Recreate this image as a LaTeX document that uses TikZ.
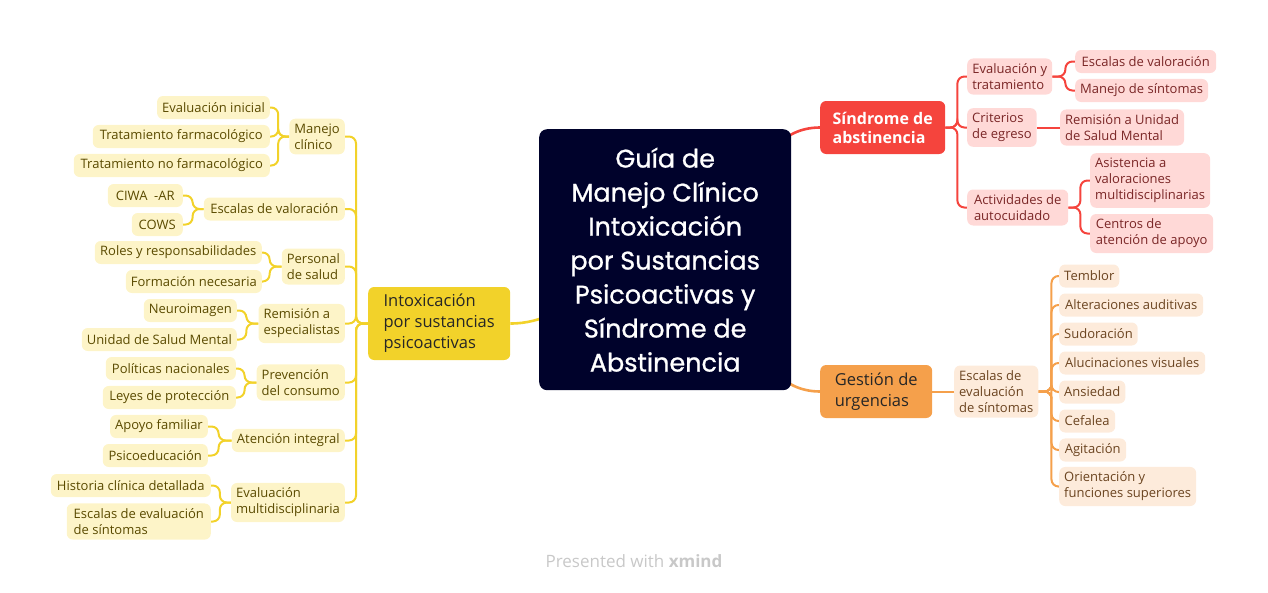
\documentclass[tikz,border=0pt]{standalone}
\usepackage{fontspec}
\setmainfont{Open Sans}
\newfontfamily\titlefont[FakeBold=0.9]{Poppins}
\usetikzlibrary{backgrounds}

\definecolor{navy}{HTML}{00022B}
\definecolor{redmain}{HTML}{F5443D}
\definecolor{redfill}{HTML}{FFD9D7}
\definecolor{redtext}{HTML}{7A2626}
\definecolor{orgmain}{HTML}{F5A04B}
\definecolor{orgfill}{HTML}{FDEBDB}
\definecolor{orgtext}{HTML}{6B4420}
\definecolor{ylwmain}{HTML}{F2D22A}
\definecolor{ylwfill}{HTML}{FDF4C8}
\definecolor{ylwtext}{HTML}{5A4A00}
\definecolor{footgray}{HTML}{C8C8C8}

\tikzset{
  topic/.style={rounded corners=6, inner xsep=5, inner ysep=5, align=left,
    minimum height=23, font=\fontsize{13}{16}\selectfont},
  bw/.style={minimum width=#1},
  redsub/.style={topic, fill=redfill, text=redtext},
  orgsub/.style={topic, fill=orgfill, text=orgtext},
  ylwsub/.style={topic, fill=ylwfill, text=ylwtext},
  rconn/.style={draw=redmain, line width=2, rounded corners=7},
  oconn/.style={draw=orgmain, line width=2, rounded corners=7},
  yconn/.style={draw=ylwmain, line width=2, rounded corners=7},
}

\begin{document}
\begin{tikzpicture}[x=1pt, y=-1pt]
  \useasboundingbox (0,0) rectangle (1268,592);

  % central topic
  \node[fill=navy, text=white, rounded corners=8, align=center, minimum width=252,
    minimum height=261, anchor=north west, font=\fontsize{25.5}{34}\titlefont]
    (main) at (539,129) {Guía de\\Manejo Clínico\\Intoxicación\\por Sustancias\\Psicoactivas y\\Síndrome de\\Abstinencia};

  % main branches
  \node[fill=redmain, text=white, rounded corners=6, align=left, anchor=west, bw=125,
    minimum height=53, font=\fontsize{16}{19}\selectfont\bfseries]
    (sind) at (820,127.5) {Síndrome de\\abstinencia};
  \node[fill=orgmain, text=black!85, rounded corners=6, align=left, anchor=west, bw=112,
    minimum height=53, font=\fontsize{16.5}{21}\selectfont]
    (gest) at (820,391.5) {Gestión de\\urgencias};
  \node[fill=ylwmain, text=black!85, rounded corners=6, align=left, anchor=west, bw=142,
    minimum height=73, font=\fontsize{16.5}{21}\selectfont]
    (intox) at (368,323.5) {Intoxicación\\por sustancias\\psicoactivas};

  % red branch
  \node[redsub, anchor=west, bw=85] (evtr) at (967,76.5) {Evaluación y\\tratamiento};
  \node[redsub, anchor=west, bw=69] (crit) at (967,127.5) {Criterios\\de egreso};
  \node[redsub, anchor=west, bw=101] (acti) at (967,207.5) {Actividades de\\autocuidado};
  \node[redsub, anchor=west, bw=141] (escv) at (1075,61.5) {Escalas de valoración};
  \node[redsub, anchor=west, bw=129] (mans) at (1075,90.5) {Manejo de síntomas};
  \node[redsub, anchor=west, bw=119] (remu) at (1060,127.5) {Remisión a Unidad\\de Salud Mental};
  \node[redsub, anchor=west, bw=119] (asis) at (1090,180.5) {Asistencia a\\valoraciones\\multidisciplinarias};
  \node[redsub, anchor=west, bw=123] (cent) at (1090,233.5) {Centros de\\atención de apoyo};

  % orange branch
  \node[orgsub, anchor=west, bw=82] (esce) at (954,391.5) {Escalas de\\evaluación\\de síntomas};
  \node[orgsub, anchor=west, bw=58] (temb) at (1059,276) {Temblor};
  \node[orgsub, anchor=west, bw=144] (alte) at (1059,305) {Alteraciones auditivas};
  \node[orgsub, anchor=west, bw=78] (sudo) at (1059,334) {Sudoración};
  \node[orgsub, anchor=west, bw=146] (aluc) at (1059,363) {Alucinaciones visuales};
  \node[orgsub, anchor=west, bw=65] (ansi) at (1059,392) {Ansiedad};
  \node[orgsub, anchor=west, bw=56] (cefa) at (1059,421) {Cefalea};
  \node[orgsub, anchor=west, bw=67] (agit) at (1059,450) {Agitación};
  \node[orgsub, anchor=west, bw=135] (orie) at (1059,486.5) {Orientación y\\funciones superiores};

  % yellow branch
  \node[ylwsub, anchor=east, bw=52] (manc) at (345,136.5) {Manejo\\clínico};
  \node[ylwsub, anchor=east, bw=141] (escval) at (345,209) {Escalas de valoración};
  \node[ylwsub, anchor=east, bw=60] (pers) at (345,266.5) {Personal\\de salud};
  \node[ylwsub, anchor=east, bw=86] (remi) at (345,323.5) {Remisión a\\especialistas};
  \node[ylwsub, anchor=east, bw=86] (prev) at (345,382.5) {Prevención\\del consumo};
  \node[ylwsub, anchor=east, bw=113] (aten) at (345,440.5) {Atención integral};
  \node[ylwsub, anchor=east, bw=112] (evmu) at (345,502.5) {Evaluación\\multidisciplinaria};

  \node[ylwsub, anchor=east, bw=112] (evin) at (270,107.5) {Evaluación inicial};
  \node[ylwsub, anchor=east, bw=177] (trfa) at (270,136.5) {Tratamiento farmacológico};
  \node[ylwsub, anchor=east, bw=196] (trnf) at (270,165.5) {Tratamiento no farmacológico};
  \node[ylwsub, anchor=east, bw=75] (ciwa) at (183,195.5) {CIWA~~-AR};
  \node[ylwsub, anchor=east, bw=51] (cows) at (183,224.5) {COWS};
  \node[ylwsub, anchor=east, bw=167] (role) at (262,252.5) {Roles y responsabilidades};
  \node[ylwsub, anchor=east, bw=135] (form) at (262,281.5) {Formación necesaria};
  \node[ylwsub, anchor=east, bw=90] (neur) at (237,310.5) {Neuroimagen};
  \node[ylwsub, anchor=east, bw=155] (unid) at (237,339.5) {Unidad de Salud Mental};
  \node[ylwsub, anchor=east, bw=130] (poli) at (236,368.5) {Políticas nacionales};
  \node[ylwsub, anchor=east, bw=133] (leye) at (236,397.5) {Leyes de protección};
  \node[ylwsub, anchor=east, bw=97] (apoy) at (208,426.5) {Apoyo familiar};
  \node[ylwsub, anchor=east, bw=105] (psic) at (208,455.5) {Psicoeducación};
  \node[ylwsub, anchor=east, bw=160] (hist) at (211,485.5) {Historia clínica detallada};
  \node[ylwsub, anchor=east, bw=144] (esev) at (211,521.5) {Escalas de evaluación\\de síntomas};

  % connectors
  \begin{scope}[on background layer]
    \draw[draw=ylwmain, line width=2.6] (intox.east) to[out=0, in=180] (main.center);
    \draw[draw=redmain, line width=2.6] (main.center) to[out=0, in=180] (sind.west);
    \draw[draw=orgmain, line width=2.6] (main.center) to[out=0, in=180] (gest.west);

    \foreach \c in {evtr, crit, acti} \draw[rconn] (sind.east) -- ++(12,0) |- (\c.west);
    \foreach \c in {escv, mans} \draw[rconn] (evtr.east) -- ++(13,0) |- (\c.west);
    \draw[rconn] (crit.east) -- (remu.west);
    \foreach \c in {asis, cent} \draw[rconn] (acti.east) -- ++(12,0) |- (\c.west);

    \draw[oconn] (gest.east) -- (esce.west);
    \foreach \c in {temb, alte, sudo, aluc, ansi, cefa, agit, orie}
      \draw[oconn] (esce.east) -- ++(13,0) |- (\c.west);

    \foreach \c in {manc, escval, pers, remi, prev, aten, evmu}
      \draw[yconn] (intox.west) -- ++(-12,0) |- (\c.east);
    \foreach \c in {evin, trfa, trnf} \draw[yconn] (manc.west) -- ++(-11,0) |- (\c.east);
    \foreach \c in {ciwa, cows} \draw[yconn] (escval.west) -- ++(-11,0) |- (\c.east);
    \foreach \c in {role, form} \draw[yconn] (pers.west) -- ++(-12,0) |- (\c.east);
    \foreach \c in {neur, unid} \draw[yconn] (remi.west) -- ++(-12,0) |- (\c.east);
    \foreach \c in {poli, leye} \draw[yconn] (prev.west) -- ++(-12,0) |- (\c.east);
    \foreach \c in {apoy, psic} \draw[yconn] (aten.west) -- ++(-13,0) |- (\c.east);
    \foreach \c in {hist, esev} \draw[yconn] (evmu.west) -- ++(-11,0) |- (\c.east);
  \end{scope}

  % footer
  \node[text=footgray, font=\fontsize{17}{20}\selectfont] (foot) at (634,561) {Presented with \textbf{xmind}};
\end{tikzpicture}
\end{document}
